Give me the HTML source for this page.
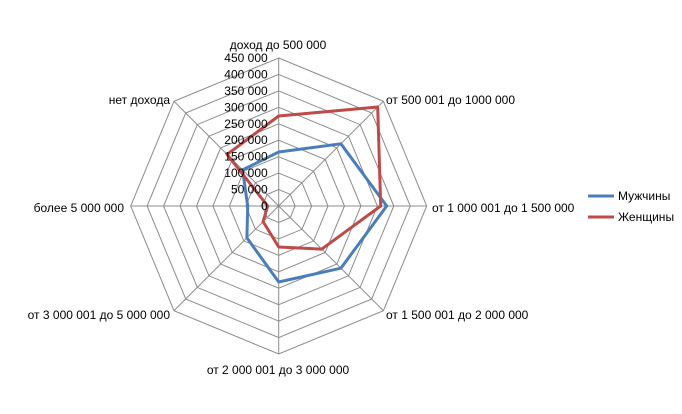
<!DOCTYPE html>
<html><head><meta charset="utf-8"><style>body{margin:0;background:#fff}svg{display:block}text{font-family:"Liberation Sans",sans-serif;font-size:12px;fill:#000}</style></head>
<body>
<svg id="s" width="682" height="414" xmlns="http://www.w3.org/2000/svg">
<g id="grid" stroke="#8c8c8c" stroke-width="1" fill="none"></g>
<g id="ser" fill="none" stroke-width="3" stroke-linejoin="round"></g>
<g id="lab"></g>
<line x1="588" y1="196" x2="614" y2="196" stroke="#4a7ebb" stroke-width="3"/>
<text x="618" y="200">Мужчины</text>
<line x1="588" y1="217" x2="614" y2="217" stroke="#be4b48" stroke-width="3"/>
<text x="618" y="221">Женщины</text>
</svg>
<script>
var cx=278.7,cy=206,R=148,ns="http://www.w3.org/2000/svg";
function pt(i,r){var a=-Math.PI/2+i*Math.PI/4;return [cx+r*Math.cos(a),cy+r*Math.sin(a)];}
var g=document.getElementById('grid'),h='';
for(var k=1;k<=9;k++){var p=[];for(var i=0;i<8;i++)p.push(pt(i,R*k/9).map(v=>v.toFixed(1)).join(','));h+='<polygon points="'+p.join(' ')+'"/>';}
for(var i=0;i<8;i++){var q=pt(i,R);h+='<line x1="'+cx+'" y1="'+cy+'" x2="'+q[0]+'" y2="'+q[1]+'"/>';}
g.innerHTML=h;
var blue=[54,88,108,88,76,45,31,51],red=[90,140,102,61,41,22,11,73];
function poly(d,c){var p=d.map((r,i)=>pt(i,r).map(v=>v.toFixed(1)).join(','));return '<polygon points="'+p.join(' ')+'" stroke="'+c+'"/>';}
document.getElementById('ser').innerHTML=poly(blue,'#4a7ebb')+poly(red,'#be4b48');
var l='';
var ticks=['0','50 000','100 000','150 000','200 000','250 000','300 000','350 000','400 000','450 000'];
for(var k=0;k<10;k++)l+='<text x="'+(cx-11)+'" y="'+(cy-R*k/9+4)+'" text-anchor="end">'+ticks[k]+'</text>';
var L=[['доход до 500 000',278,49,'middle'],['от 500 001 до 1000 000',386,104,'start'],['от 1 000 001 до 1 500 000',432,212,'start'],['от 1 500 001 до 2 000 000',386,319,'start'],['от 2 000 001 до 3 000 000',278,374,'middle'],['от 3 000 001 до 5 000 000',170,319,'end'],['более 5 000 000',124,212,'end'],['нет дохода',170,104,'end']];
L.forEach(a=>l+='<text x="'+a[1]+'" y="'+a[2]+'" text-anchor="'+a[3]+'">'+a[0]+'</text>');
document.getElementById('lab').innerHTML=l;
</script>
</body></html>
